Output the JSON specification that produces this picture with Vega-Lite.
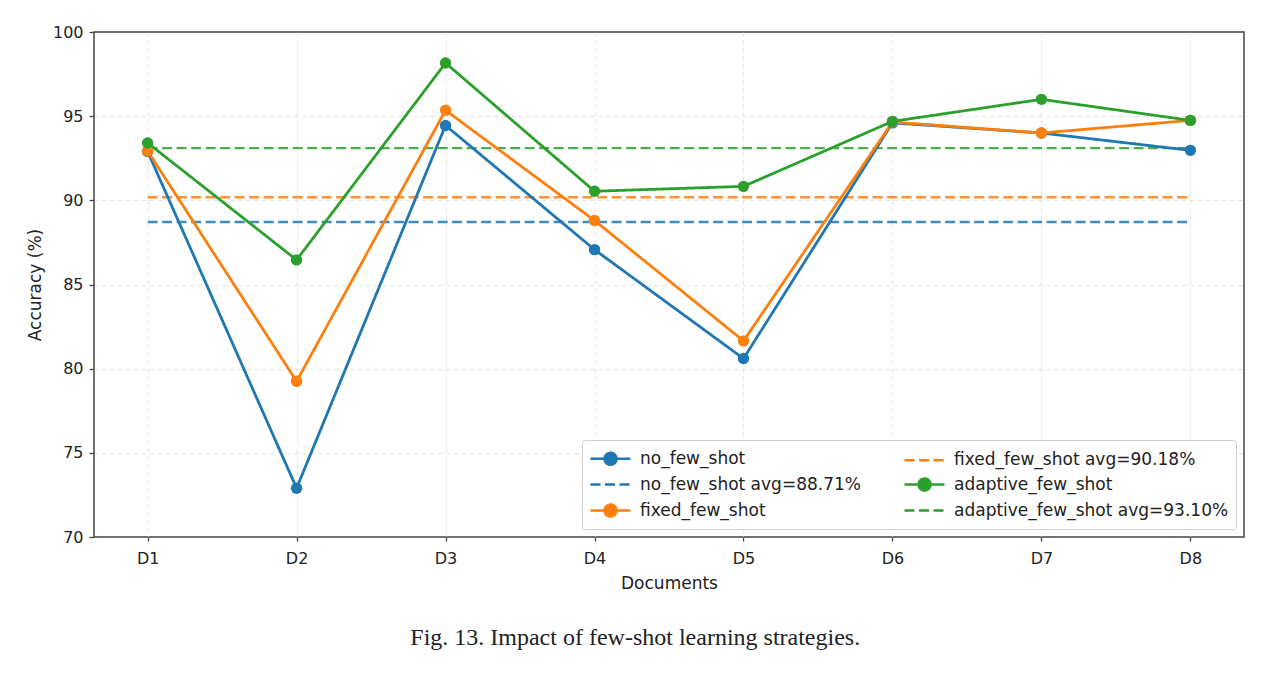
{
  "$schema": "https://vega.github.io/schema/vega-lite/v6.json",
  "width": 1150,
  "height": 505,
  "padding": {"left": 26, "top": 24, "right": 30, "bottom": 10},
  "config": {
    "font": "DejaVu Sans",
    "view": {"stroke": "#444444", "strokeWidth": 1.5},
    "axis": {
      "labelFont": "DejaVu Sans",
      "titleFont": "DejaVu Sans",
      "labelFontSize": 16,
      "titleFontSize": 17,
      "titleFontWeight": "normal",
      "labelColor": "#222222",
      "titleColor": "#222222",
      "tickColor": "#444444",
      "tickWidth": 1.3,
      "domain": false,
      "grid": true,
      "gridColor": "#dedede",
      "gridDash": [4, 4],
      "gridWidth": 0.9
    },
    "legend": {
      "orient": "bottom-right",
      "direction": "vertical",
      "columns": 2,
      "columnPadding": 38,
      "rowPadding": 3,
      "offset": 8,
      "labelFont": "DejaVu Sans",
      "labelFontSize": 17,
      "labelColor": "#222222",
      "labelLimit": 500,
      "labelOffset": 28,
      "symbolSize": 400,
      "symbolStrokeWidth": 2.5,
      "symbolOpacity": 1,
      "fillColor": "white",
      "strokeColor": "#d0d0d0",
      "padding": 7,
      "cornerRadius": 3
    }
  },
  "title": {
    "text": "Fig. 13.  Impact of few-shot learning strategies.",
    "orient": "bottom",
    "anchor": "middle",
    "frame": "bounds",
    "font": "Liberation Serif",
    "fontSize": 24,
    "fontWeight": "normal",
    "color": "#222222",
    "offset": 35
  },
  "datasets": {
    "acc": [
      {"doc": "D1", "series": "no_few_shot", "acc": 92.9},
      {"doc": "D2", "series": "no_few_shot", "acc": 72.9},
      {"doc": "D3", "series": "no_few_shot", "acc": 94.45},
      {"doc": "D4", "series": "no_few_shot", "acc": 87.07},
      {"doc": "D5", "series": "no_few_shot", "acc": 80.6},
      {"doc": "D6", "series": "no_few_shot", "acc": 94.6},
      {"doc": "D7", "series": "no_few_shot", "acc": 94.0},
      {"doc": "D8", "series": "no_few_shot", "acc": 92.97},
      {"doc": "D1", "series": "fixed_few_shot", "acc": 92.93},
      {"doc": "D2", "series": "fixed_few_shot", "acc": 79.25},
      {"doc": "D3", "series": "fixed_few_shot", "acc": 95.35},
      {"doc": "D4", "series": "fixed_few_shot", "acc": 88.8},
      {"doc": "D5", "series": "fixed_few_shot", "acc": 81.65},
      {"doc": "D6", "series": "fixed_few_shot", "acc": 94.65},
      {"doc": "D7", "series": "fixed_few_shot", "acc": 94.0},
      {"doc": "D8", "series": "fixed_few_shot", "acc": 94.75},
      {"doc": "D1", "series": "adaptive_few_shot", "acc": 93.41},
      {"doc": "D2", "series": "adaptive_few_shot", "acc": 86.46},
      {"doc": "D3", "series": "adaptive_few_shot", "acc": 98.16},
      {"doc": "D4", "series": "adaptive_few_shot", "acc": 90.54},
      {"doc": "D5", "series": "adaptive_few_shot", "acc": 90.83},
      {"doc": "D6", "series": "adaptive_few_shot", "acc": 94.69},
      {"doc": "D7", "series": "adaptive_few_shot", "acc": 96.0},
      {"doc": "D8", "series": "adaptive_few_shot", "acc": 94.75}
    ],
    "avg": [
      {"series": "no_few_shot avg=88.71%", "avg": 88.71, "start": "D1", "end": "D8"},
      {"series": "fixed_few_shot avg=90.18%", "avg": 90.18, "start": "D1", "end": "D8"},
      {"series": "adaptive_few_shot avg=93.10%", "avg": 93.1, "start": "D1", "end": "D8"}
    ]
  },
  "layer": [
    {
      "data": {"name": "avg"},
      "mark": {"type": "rule", "strokeWidth": 2.4, "opacity": 0.85},
      "encoding": {
        "x": {
          "field": "start",
          "type": "ordinal",
          "title": "Documents",
          "scale": {"type": "point", "padding": 0.36, "domain": ["D1", "D2", "D3", "D4", "D5", "D6", "D7", "D8"]},
          "axis": {"labelAngle": 0, "tickSize": 4, "titlePadding": 9, "labelPadding": 9}
        },
        "x2": {"field": "end"},
        "y": {
          "field": "avg",
          "type": "quantitative",
          "title": "Accuracy (%)",
          "scale": {"domain": [70, 100], "nice": false, "zero": false},
          "axis": {
            "values": [70, 75, 80, 85, 90, 95, 100],
            "tickSize": 5,
            "titlePadding": 8,
            "labelPadding": 6,
            "gridOpacity": {"condition": {"test": "datum.value == 70 || datum.value == 100", "value": 0}, "value": 1}
          }
        },
        "color": {
          "field": "series",
          "type": "nominal",
          "title": null,
          "scale": {
            "domain": ["no_few_shot", "no_few_shot avg=88.71%", "fixed_few_shot", "fixed_few_shot avg=90.18%", "adaptive_few_shot", "adaptive_few_shot avg=93.10%"],
            "range": ["#1f77b4", "#1f77b4", "#ff7f0e", "#ff7f0e", "#2ca02c", "#2ca02c"]
          }
        },
        "strokeDash": {
          "field": "series",
          "type": "nominal",
          "title": null,
          "scale": {
            "domain": ["no_few_shot", "no_few_shot avg=88.71%", "fixed_few_shot", "fixed_few_shot avg=90.18%", "adaptive_few_shot", "adaptive_few_shot avg=93.10%"],
            "range": [[1, 0], [10, 4.5], [1, 0], [10, 4.5], [1, 0], [10, 4.5]]
          }
        }
      }
    },
    {
      "data": {"name": "acc"},
      "mark": {"type": "line", "strokeWidth": 2.8, "point": {"filled": true, "size": 130, "opacity": 1}},
      "encoding": {
        "x": {"field": "doc", "type": "ordinal"},
        "y": {"field": "acc", "type": "quantitative"},
        "color": {"field": "series", "type": "nominal", "title": null},
        "strokeDash": {"field": "series", "type": "nominal", "title": null}
      }
    },
    {
      "data": {"name": "avg"},
      "transform": [{"filter": "false"}],
      "mark": {"type": "point", "filled": true},
      "encoding": {
        "x": {"field": "start", "type": "ordinal"},
        "y": {"field": "avg", "type": "quantitative"},
        "color": {"field": "series", "type": "nominal", "title": null},
        "shape": {
          "field": "series",
          "type": "nominal",
          "title": null,
          "scale": {
            "domain": ["no_few_shot", "no_few_shot avg=88.71%", "fixed_few_shot", "fixed_few_shot avg=90.18%", "adaptive_few_shot", "adaptive_few_shot avg=93.10%"],
            "range": [
              "M-1,0L3,0M1.6,0A0.6,0.6,0,1,1,0.4,0A0.6,0.6,0,1,1,1.6,0",
              "M-1,0L3,0",
              "M-1,0L3,0M1.6,0A0.6,0.6,0,1,1,0.4,0A0.6,0.6,0,1,1,1.6,0",
              "M-1,0L3,0",
              "M-1,0L3,0M1.6,0A0.6,0.6,0,1,1,0.4,0A0.6,0.6,0,1,1,1.6,0",
              "M-1,0L3,0"
            ]
          }
        }
      }
    }
  ]
}
